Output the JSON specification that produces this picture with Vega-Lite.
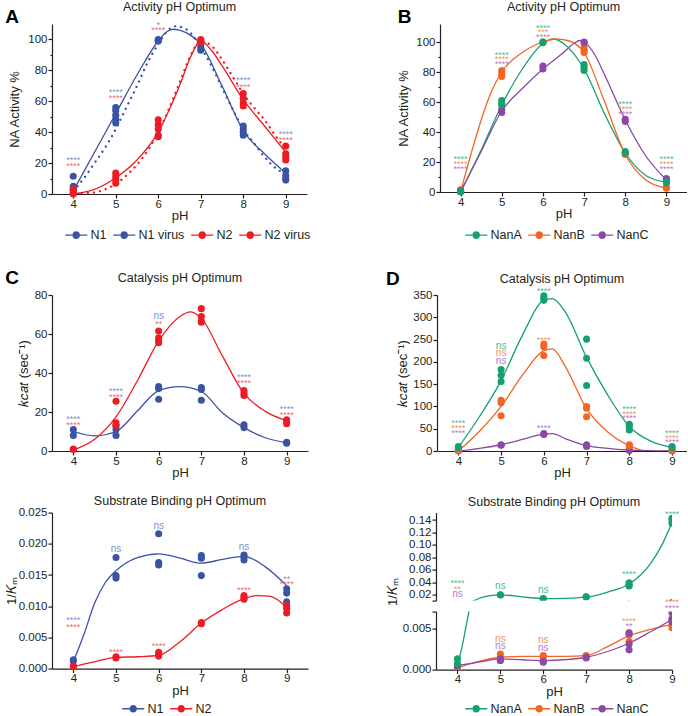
{
  "$schema": "https://vega.github.io/schema/vega-lite/v6.json",
  "padding": {"left": 5, "top": 1, "right": 0, "bottom": 0},
  "config": {
    "font": "Liberation Sans",
    "view": {"stroke": null},
    "axis": {"grid": false, "domainColor": "#231f20", "tickColor": "#231f20", "labelColor": "#231f20", "titleColor": "#231f20", "labelFontSize": 11.5, "titleFontSize": 13, "titleFontWeight": "normal", "tickSize": 4, "labelPadding": 1, "titlePadding": 5, "domainWidth": 1.2, "tickWidth": 1.2, "labelFlush": false},
    "axisX": {"labelPadding": 0, "titlePadding": 0},
    "title": {"fontSize": 12.5, "fontWeight": "normal", "color": "#231f20", "frame": "group"},
    "legend": {"labelFontSize": 12.5, "labelColor": "#231f20", "symbolSize": 144, "symbolStrokeWidth": 0, "labelOffset": 13, "columnPadding": 6, "padding": 0}
  },
  "datasets": {
    "A_pts": [
      {"pH":4,"v":11.5,"s":"N1"},{"pH":4,"v":5,"s":"N1"},{"pH":4,"v":3,"s":"N1"},{"pH":4,"v":1,"s":"N1"},
      {"pH":5,"v":56,"s":"N1"},{"pH":5,"v":54,"s":"N1"},{"pH":5,"v":51,"s":"N1"},{"pH":5,"v":48,"s":"N1"},{"pH":5,"v":46,"s":"N1"},
      {"pH":6,"v":100,"s":"N1"},{"pH":6,"v":99.5,"s":"N1"},{"pH":6,"v":99,"s":"N1"},
      {"pH":7,"v":99,"s":"N1"},{"pH":7,"v":97,"s":"N1"},{"pH":7,"v":95,"s":"N1"},{"pH":7,"v":93,"s":"N1"},
      {"pH":8,"v":44,"s":"N1"},{"pH":8,"v":42,"s":"N1"},{"pH":8,"v":40,"s":"N1"},{"pH":8,"v":38,"s":"N1"},
      {"pH":9,"v":15,"s":"N1"},{"pH":9,"v":12,"s":"N1"},{"pH":9,"v":10,"s":"N1"},{"pH":9,"v":9,"s":"N1"},
      {"pH":4,"v":3,"s":"N2"},{"pH":4,"v":1.5,"s":"N2"},{"pH":4,"v":0,"s":"N2"},
      {"pH":5,"v":13.5,"s":"N2"},{"pH":5,"v":11,"s":"N2"},{"pH":5,"v":9,"s":"N2"},{"pH":5,"v":7,"s":"N2"},
      {"pH":6,"v":48,"s":"N2"},{"pH":6,"v":45,"s":"N2"},{"pH":6,"v":42,"s":"N2"},{"pH":6,"v":38,"s":"N2"},{"pH":6,"v":37,"s":"N2"},
      {"pH":7,"v":100,"s":"N2"},{"pH":7,"v":99,"s":"N2"},{"pH":7,"v":98,"s":"N2"},
      {"pH":8,"v":65,"s":"N2"},{"pH":8,"v":62,"s":"N2"},{"pH":8,"v":59,"s":"N2"},{"pH":8,"v":57,"s":"N2"},
      {"pH":9,"v":31,"s":"N2"},{"pH":9,"v":26,"s":"N2"},{"pH":9,"v":24,"s":"N2"},{"pH":9,"v":22,"s":"N2"}
    ],
    "A_fit": [
      {"pH":4,"v":2,"s":"N1"},{"pH":4.5,"v":27,"s":"N1"},{"pH":5,"v":52,"s":"N1"},{"pH":5.5,"v":77,"s":"N1"},{"pH":6,"v":99,"s":"N1"},{"pH":6.2,"v":105,"s":"N1"},{"pH":6.35,"v":106.6,"s":"N1"},{"pH":6.5,"v":106,"s":"N1"},{"pH":6.8,"v":102,"s":"N1"},{"pH":7,"v":97,"s":"N1"},{"pH":7.5,"v":70,"s":"N1"},{"pH":8,"v":41,"s":"N1"},{"pH":8.5,"v":26,"s":"N1"},{"pH":9,"v":13.5,"s":"N1"},
      {"pH":4.1,"v":5,"s":"N1 virus"},{"pH":4.3,"v":12,"s":"N1 virus"},{"pH":4.5,"v":20,"s":"N1 virus"},{"pH":4.75,"v":30,"s":"N1 virus"},{"pH":5,"v":42,"s":"N1 virus"},{"pH":5.25,"v":56,"s":"N1 virus"},{"pH":5.5,"v":70,"s":"N1 virus"},{"pH":5.75,"v":85,"s":"N1 virus"},{"pH":6,"v":97,"s":"N1 virus"},{"pH":6.2,"v":105,"s":"N1 virus"},{"pH":6.4,"v":108.5,"s":"N1 virus"},{"pH":6.6,"v":107.5,"s":"N1 virus"},{"pH":6.8,"v":103,"s":"N1 virus"},{"pH":7,"v":95,"s":"N1 virus"},{"pH":7.25,"v":83,"s":"N1 virus"},{"pH":7.5,"v":69,"s":"N1 virus"},{"pH":7.75,"v":55,"s":"N1 virus"},{"pH":8,"v":42,"s":"N1 virus"},{"pH":8.25,"v":33,"s":"N1 virus"},{"pH":8.5,"v":24,"s":"N1 virus"},{"pH":8.75,"v":17,"s":"N1 virus"},{"pH":9,"v":13,"s":"N1 virus"},
      {"pH":4,"v":0,"s":"N2"},{"pH":4.5,"v":3,"s":"N2"},{"pH":5,"v":10.5,"s":"N2"},{"pH":5.5,"v":22,"s":"N2"},{"pH":6,"v":40,"s":"N2"},{"pH":6.25,"v":54,"s":"N2"},{"pH":6.5,"v":70,"s":"N2"},{"pH":6.75,"v":88,"s":"N2"},{"pH":7,"v":99,"s":"N2"},{"pH":7.25,"v":93,"s":"N2"},{"pH":7.5,"v":83,"s":"N2"},{"pH":8,"v":61,"s":"N2"},{"pH":8.5,"v":44,"s":"N2"},{"pH":9,"v":27,"s":"N2"},
      {"pH":4.2,"v":0.5,"s":"N2 virus"},{"pH":4.5,"v":1,"s":"N2 virus"},{"pH":4.75,"v":3,"s":"N2 virus"},{"pH":5,"v":6.5,"s":"N2 virus"},{"pH":5.25,"v":12,"s":"N2 virus"},{"pH":5.5,"v":19,"s":"N2 virus"},{"pH":5.75,"v":28,"s":"N2 virus"},{"pH":6,"v":40,"s":"N2 virus"},{"pH":6.25,"v":55,"s":"N2 virus"},{"pH":6.5,"v":72,"s":"N2 virus"},{"pH":6.75,"v":89,"s":"N2 virus"},{"pH":7,"v":99,"s":"N2 virus"},{"pH":7.25,"v":96,"s":"N2 virus"},{"pH":7.5,"v":87,"s":"N2 virus"},{"pH":7.75,"v":76,"s":"N2 virus"},{"pH":8,"v":65,"s":"N2 virus"},{"pH":8.25,"v":56,"s":"N2 virus"},{"pH":8.5,"v":48,"s":"N2 virus"},{"pH":8.75,"v":38,"s":"N2 virus"},{"pH":9,"v":29,"s":"N2 virus"}
    ],
    "A_sig": [
      {"pH":4,"v":23.3,"s":"N1","label":"****"},{"pH":4,"v":19.3,"s":"N2","label":"****"},
      {"pH":5,"v":67.5,"s":"N1","label":"****"},{"pH":5,"v":63.4,"s":"N2","label":"****"},
      {"pH":6,"v":111,"s":"N1","label":"*"},{"pH":6,"v":107.7,"s":"N2","label":"****"},
      {"pH":8,"v":75,"s":"N1","label":"****"},{"pH":8,"v":70.7,"s":"N2","label":"****"},
      {"pH":9,"v":40.3,"s":"N1","label":"****"},{"pH":9,"v":36.4,"s":"N2","label":"****"}
    ],
    "B_pts": [
      {"pH":4,"v":1.5,"s":"NanB"},{"pH":4,"v":1,"s":"NanB"},{"pH":5,"v":81,"s":"NanB"},{"pH":5,"v":79,"s":"NanB"},{"pH":5,"v":77,"s":"NanB"},{"pH":6,"v":100,"s":"NanB"},{"pH":7,"v":96,"s":"NanB"},{"pH":7,"v":94,"s":"NanB"},{"pH":7,"v":93,"s":"NanB"},{"pH":8,"v":26,"s":"NanB"},{"pH":8,"v":25,"s":"NanB"},{"pH":9,"v":3,"s":"NanB"},{"pH":9,"v":2.5,"s":"NanB"},
      {"pH":4,"v":1,"s":"NanC"},{"pH":4,"v":0.5,"s":"NanC"},{"pH":5,"v":55,"s":"NanC"},{"pH":5,"v":53,"s":"NanC"},{"pH":6,"v":84,"s":"NanC"},{"pH":6,"v":82,"s":"NanC"},{"pH":7,"v":100,"s":"NanC"},{"pH":7,"v":99.5,"s":"NanC"},{"pH":8,"v":48.5,"s":"NanC"},{"pH":8,"v":47,"s":"NanC"},{"pH":9,"v":9,"s":"NanC"},{"pH":9,"v":8,"s":"NanC"},
      {"pH":4,"v":0.5,"s":"NanA"},{"pH":4,"v":0,"s":"NanA"},{"pH":5,"v":61,"s":"NanA"},{"pH":5,"v":59,"s":"NanA"},{"pH":5,"v":58,"s":"NanA"},{"pH":6,"v":100,"s":"NanA"},{"pH":6,"v":99.5,"s":"NanA"},{"pH":7,"v":85,"s":"NanA"},{"pH":7,"v":83,"s":"NanA"},{"pH":7,"v":81,"s":"NanA"},{"pH":8,"v":27,"s":"NanA"},{"pH":8,"v":26,"s":"NanA"},{"pH":9,"v":7,"s":"NanA"},{"pH":9,"v":6,"s":"NanA"}
    ],
    "B_fit": [
      {"pH":4,"v":0,"s":"NanA"},{"pH":4.5,"v":28,"s":"NanA"},{"pH":5,"v":58,"s":"NanA"},{"pH":5.5,"v":82,"s":"NanA"},{"pH":6,"v":99,"s":"NanA"},{"pH":6.25,"v":102,"s":"NanA"},{"pH":6.5,"v":99,"s":"NanA"},{"pH":7,"v":82,"s":"NanA"},{"pH":7.5,"v":52,"s":"NanA"},{"pH":8,"v":26,"s":"NanA"},{"pH":8.5,"v":11,"s":"NanA"},{"pH":9,"v":6.5,"s":"NanA"},
      {"pH":4,"v":0,"s":"NanB"},{"pH":4.25,"v":25,"s":"NanB"},{"pH":4.5,"v":48,"s":"NanB"},{"pH":4.75,"v":67,"s":"NanB"},{"pH":5,"v":80,"s":"NanB"},{"pH":5.5,"v":93,"s":"NanB"},{"pH":6,"v":100,"s":"NanB"},{"pH":6.3,"v":102,"s":"NanB"},{"pH":6.6,"v":101,"s":"NanB"},{"pH":7,"v":93,"s":"NanB"},{"pH":7.5,"v":60,"s":"NanB"},{"pH":8,"v":25,"s":"NanB"},{"pH":8.5,"v":8,"s":"NanB"},{"pH":9,"v":2.5,"s":"NanB"},
      {"pH":4,"v":0,"s":"NanC"},{"pH":4.5,"v":27,"s":"NanC"},{"pH":5,"v":54,"s":"NanC"},{"pH":5.5,"v":69,"s":"NanC"},{"pH":6,"v":82,"s":"NanC"},{"pH":6.5,"v":93,"s":"NanC"},{"pH":6.75,"v":99,"s":"NanC"},{"pH":6.9,"v":101,"s":"NanC"},{"pH":7,"v":100,"s":"NanC"},{"pH":7.25,"v":92,"s":"NanC"},{"pH":7.5,"v":78,"s":"NanC"},{"pH":8,"v":48,"s":"NanC"},{"pH":8.5,"v":24,"s":"NanC"},{"pH":9,"v":8,"s":"NanC"}
    ],
    "B_sig": [
      {"pH":4,"v":23.3,"s":"NanA","label":"****"},{"pH":4,"v":20,"s":"NanB","label":"****"},{"pH":4,"v":16.7,"s":"NanC","label":"****"},
      {"pH":5,"v":93,"s":"NanA","label":"****"},{"pH":5,"v":90,"s":"NanB","label":"****"},{"pH":5,"v":86.9,"s":"NanC","label":"****"},
      {"pH":6,"v":111,"s":"NanA","label":"****"},{"pH":6,"v":108,"s":"NanB","label":"***"},{"pH":6,"v":104.7,"s":"NanC","label":"****"},
      {"pH":8,"v":60,"s":"NanA","label":"****"},{"pH":8,"v":57,"s":"NanB","label":"****"},{"pH":8,"v":53.8,"s":"NanC","label":"****"},
      {"pH":9,"v":23.3,"s":"NanA","label":"****"},{"pH":9,"v":20,"s":"NanB","label":"****"},{"pH":9,"v":16.9,"s":"NanC","label":"****"}
    ],
    "C_pts": [
      {"pH":4,"v":11,"s":"N1"},{"pH":4,"v":8,"s":"N1"},{"pH":5,"v":13,"s":"N1"},{"pH":5,"v":11,"s":"N1"},{"pH":5,"v":8,"s":"N1"},{"pH":6,"v":33,"s":"N1"},{"pH":6,"v":32,"s":"N1"},{"pH":6,"v":26.5,"s":"N1"},{"pH":7,"v":32.5,"s":"N1"},{"pH":7,"v":31.5,"s":"N1"},{"pH":7,"v":26,"s":"N1"},{"pH":8,"v":13.5,"s":"N1"},{"pH":8,"v":12,"s":"N1"},{"pH":9,"v":4.5,"s":"N1"},{"pH":9,"v":4,"s":"N1"},
      {"pH":4,"v":1,"s":"N2"},{"pH":4,"v":0.8,"s":"N2"},{"pH":5,"v":25.5,"s":"N2"},{"pH":5,"v":14.5,"s":"N2"},{"pH":5,"v":13,"s":"N2"},{"pH":6,"v":61.5,"s":"N2"},{"pH":6,"v":58,"s":"N2"},{"pH":6,"v":56.5,"s":"N2"},{"pH":6,"v":55.5,"s":"N2"},{"pH":7,"v":73,"s":"N2"},{"pH":7,"v":69,"s":"N2"},{"pH":7,"v":66.5,"s":"N2"},{"pH":7,"v":66,"s":"N2"},{"pH":8,"v":31,"s":"N2"},{"pH":8,"v":29.5,"s":"N2"},{"pH":8,"v":28.5,"s":"N2"},{"pH":9,"v":16,"s":"N2"},{"pH":9,"v":15,"s":"N2"},{"pH":9,"v":14,"s":"N2"}
    ],
    "C_fit": [
      {"pH":4,"v":10,"s":"N1"},{"pH":4.5,"v":7.8,"s":"N1"},{"pH":5,"v":10,"s":"N1"},{"pH":5.5,"v":20.5,"s":"N1"},{"pH":6,"v":31,"s":"N1"},{"pH":6.5,"v":33,"s":"N1"},{"pH":7,"v":30.5,"s":"N1"},{"pH":7.5,"v":19.5,"s":"N1"},{"pH":8,"v":12,"s":"N1"},{"pH":8.5,"v":6.8,"s":"N1"},{"pH":9,"v":4.2,"s":"N1"},
      {"pH":4,"v":0.5,"s":"N2"},{"pH":4.5,"v":6,"s":"N2"},{"pH":5,"v":17.5,"s":"N2"},{"pH":5.5,"v":36,"s":"N2"},{"pH":6,"v":56.5,"s":"N2"},{"pH":6.5,"v":69,"s":"N2"},{"pH":6.75,"v":71.3,"s":"N2"},{"pH":7,"v":68,"s":"N2"},{"pH":7.5,"v":48.5,"s":"N2"},{"pH":8,"v":29.5,"s":"N2"},{"pH":8.5,"v":20.3,"s":"N2"},{"pH":9,"v":15.5,"s":"N2"}
    ],
    "C_sig": [
      {"pH":4,"v":17.7,"s":"N1","label":"****"},{"pH":4,"v":14.3,"s":"N2","label":"****"},
      {"pH":5,"v":31.7,"s":"N1","label":"****"},{"pH":5,"v":28.7,"s":"N2","label":"****"},
      {"pH":6,"v":69,"s":"N1","label":"ns"},{"pH":6,"v":66.2,"s":"N2","label":"**"},
      {"pH":8,"v":39,"s":"N1","label":"****"},{"pH":8,"v":36,"s":"N2","label":"****"},
      {"pH":9,"v":22.9,"s":"N1","label":"****"},{"pH":9,"v":19.8,"s":"N2","label":"****"}
    ],
    "D_pts": [
      {"pH":4,"v":0.3,"s":"NanC"},{"pH":5,"v":14,"s":"NanC"},{"pH":5,"v":13,"s":"NanC"},{"pH":6,"v":39,"s":"NanC"},{"pH":6,"v":37,"s":"NanC"},{"pH":7,"v":14,"s":"NanC"},{"pH":7,"v":10,"s":"NanC"},{"pH":8,"v":2,"s":"NanC"},{"pH":8,"v":1,"s":"NanC"},{"pH":9,"v":0.3,"s":"NanC"},
      {"pH":4,"v":1,"s":"NanB"},{"pH":4,"v":0.5,"s":"NanB"},{"pH":5,"v":114,"s":"NanB"},{"pH":5,"v":108,"s":"NanB"},{"pH":5,"v":79,"s":"NanB"},{"pH":6,"v":240,"s":"NanB"},{"pH":6,"v":234,"s":"NanB"},{"pH":6,"v":214,"s":"NanB"},{"pH":7,"v":100,"s":"NanB"},{"pH":7,"v":96,"s":"NanB"},{"pH":7,"v":77,"s":"NanB"},{"pH":8,"v":14,"s":"NanB"},{"pH":8,"v":11,"s":"NanB"},{"pH":9,"v":1,"s":"NanB"},{"pH":9,"v":0.5,"s":"NanB"},
      {"pH":4,"v":10,"s":"NanA"},{"pH":4,"v":8,"s":"NanA"},{"pH":5,"v":183,"s":"NanA"},{"pH":5,"v":170,"s":"NanA"},{"pH":5,"v":156,"s":"NanA"},{"pH":6,"v":348,"s":"NanA"},{"pH":6,"v":343,"s":"NanA"},{"pH":6,"v":338,"s":"NanA"},{"pH":7,"v":251,"s":"NanA"},{"pH":7,"v":208,"s":"NanA"},{"pH":7,"v":147,"s":"NanA"},{"pH":8,"v":60,"s":"NanA"},{"pH":8,"v":55,"s":"NanA"},{"pH":8,"v":47,"s":"NanA"},{"pH":9,"v":10,"s":"NanA"},{"pH":9,"v":8,"s":"NanA"}
    ],
    "D_fit": [
      {"pH":4,"v":8,"s":"NanA"},{"pH":4.5,"v":78,"s":"NanA"},{"pH":5,"v":158,"s":"NanA"},{"pH":5.5,"v":260,"s":"NanA"},{"pH":6,"v":338,"s":"NanA"},{"pH":6.2,"v":342,"s":"NanA"},{"pH":6.5,"v":312,"s":"NanA"},{"pH":7,"v":210,"s":"NanA"},{"pH":7.5,"v":125,"s":"NanA"},{"pH":8,"v":55,"s":"NanA"},{"pH":8.5,"v":22,"s":"NanA"},{"pH":9,"v":8,"s":"NanA"},
      {"pH":4,"v":0,"s":"NanB"},{"pH":4.5,"v":45,"s":"NanB"},{"pH":5,"v":100,"s":"NanB"},{"pH":5.5,"v":170,"s":"NanB"},{"pH":6,"v":225,"s":"NanB"},{"pH":6.2,"v":229,"s":"NanB"},{"pH":6.5,"v":190,"s":"NanB"},{"pH":7,"v":95,"s":"NanB"},{"pH":7.5,"v":42,"s":"NanB"},{"pH":8,"v":12,"s":"NanB"},{"pH":8.5,"v":-2,"s":"NanB"},{"pH":8.8,"v":-1,"s":"NanB"},{"pH":9,"v":0,"s":"NanB"},
      {"pH":4,"v":0,"s":"NanC"},{"pH":4.5,"v":6,"s":"NanC"},{"pH":5,"v":14,"s":"NanC"},{"pH":5.5,"v":26,"s":"NanC"},{"pH":6,"v":38,"s":"NanC"},{"pH":6.2,"v":39,"s":"NanC"},{"pH":6.5,"v":28,"s":"NanC"},{"pH":7,"v":12,"s":"NanC"},{"pH":7.5,"v":6,"s":"NanC"},{"pH":8,"v":2,"s":"NanC"},{"pH":9,"v":0,"s":"NanC"}
    ],
    "D_sig": [
      {"pH":4,"v":67,"s":"NanA","label":"****"},{"pH":4,"v":57,"s":"NanB","label":"****"},{"pH":4,"v":45.6,"s":"NanC","label":"****"},
      {"pH":5,"v":236,"s":"NanA","label":"ns"},{"pH":5,"v":219,"s":"NanB","label":"ns"},{"pH":5,"v":202,"s":"NanC","label":"ns"},
      {"pH":6,"v":365,"s":"NanA","label":"****"},{"pH":6,"v":255,"s":"NanB","label":"****"},{"pH":6,"v":56,"s":"NanC","label":"****"},
      {"pH":8,"v":99.5,"s":"NanA","label":"****"},{"pH":8,"v":88,"s":"NanB","label":"****"},{"pH":8,"v":78,"s":"NanC","label":"****"},
      {"pH":9,"v":45,"s":"NanA","label":"****"},{"pH":9,"v":35,"s":"NanB","label":"****"},{"pH":9,"v":25,"s":"NanC","label":"****"}
    ],
    "Cb_pts": [
      {"pH":4,"v":0.0014,"s":"N1"},{"pH":4,"v":0.0012,"s":"N1"},{"pH":5,"v":0.0178,"s":"N1"},{"pH":5,"v":0.0149,"s":"N1"},{"pH":5,"v":0.0145,"s":"N1"},{"pH":6,"v":0.0216,"s":"N1"},{"pH":6,"v":0.017,"s":"N1"},{"pH":6,"v":0.0166,"s":"N1"},{"pH":7,"v":0.0181,"s":"N1"},{"pH":7,"v":0.0177,"s":"N1"},{"pH":7,"v":0.0149,"s":"N1"},{"pH":8,"v":0.0182,"s":"N1"},{"pH":8,"v":0.0179,"s":"N1"},{"pH":8,"v":0.0174,"s":"N1"},{"pH":9,"v":0.0128,"s":"N1"},{"pH":9,"v":0.0121,"s":"N1"},{"pH":9,"v":0.0107,"s":"N1"},
      {"pH":4,"v":0.0004,"s":"N2"},{"pH":4,"v":0.0003,"s":"N2"},{"pH":5,"v":0.0019,"s":"N2"},{"pH":5,"v":0.0017,"s":"N2"},{"pH":6,"v":0.0026,"s":"N2"},{"pH":6,"v":0.0023,"s":"N2"},{"pH":6,"v":0.002,"s":"N2"},{"pH":7,"v":0.0074,"s":"N2"},{"pH":7,"v":0.0072,"s":"N2"},{"pH":8,"v":0.0117,"s":"N2"},{"pH":8,"v":0.0114,"s":"N2"},{"pH":8,"v":0.0111,"s":"N2"},{"pH":9,"v":0.0101,"s":"N2"},{"pH":9,"v":0.0096,"s":"N2"},{"pH":9,"v":0.0089,"s":"N2"}
    ],
    "Cb_fit": [
      {"pH":4,"v":0.0011,"s":"N1"},{"pH":4.25,"v":0.0055,"s":"N1"},{"pH":4.5,"v":0.0105,"s":"N1"},{"pH":4.75,"v":0.0138,"s":"N1"},{"pH":5,"v":0.0157,"s":"N1"},{"pH":5.5,"v":0.0178,"s":"N1"},{"pH":6,"v":0.0184,"s":"N1"},{"pH":6.5,"v":0.0177,"s":"N1"},{"pH":7,"v":0.0169,"s":"N1"},{"pH":7.5,"v":0.0175,"s":"N1"},{"pH":8,"v":0.018,"s":"N1"},{"pH":8.5,"v":0.0163,"s":"N1"},{"pH":9,"v":0.0133,"s":"N1"},
      {"pH":4,"v":0.0003,"s":"N2"},{"pH":4.5,"v":0.0011,"s":"N2"},{"pH":5,"v":0.0018,"s":"N2"},{"pH":5.5,"v":0.0019,"s":"N2"},{"pH":6,"v":0.0021,"s":"N2"},{"pH":6.5,"v":0.0043,"s":"N2"},{"pH":7,"v":0.0073,"s":"N2"},{"pH":7.5,"v":0.0095,"s":"N2"},{"pH":8,"v":0.0112,"s":"N2"},{"pH":8.3,"v":0.0117,"s":"N2"},{"pH":8.6,"v":0.0116,"s":"N2"},{"pH":9,"v":0.0098,"s":"N2"}
    ],
    "Cb_sig": [
      {"pH":4,"v":0.0081,"s":"N1","label":"****"},{"pH":4,"v":0.007,"s":"N2","label":"****"},
      {"pH":5,"v":0.0191,"s":"N1","label":"ns"},{"pH":5,"v":0.003,"s":"N2","label":"****"},
      {"pH":6,"v":0.0228,"s":"N1","label":"ns"},{"pH":6,"v":0.0039,"s":"N2","label":"****"},
      {"pH":8,"v":0.0195,"s":"N1","label":"ns"},{"pH":8,"v":0.013,"s":"N2","label":"****"},
      {"pH":9,"v":0.0147,"s":"N1","label":"**"},{"pH":9,"v":0.0139,"s":"N2","label":"****"}
    ],
    "Db_pts": [
      {"pH":4,"v":0.0003,"s":"NanB"},{"pH":4,"v":0.0002,"s":"NanB"},{"pH":5,"v":0.0019,"s":"NanB"},{"pH":5,"v":0.0015,"s":"NanB"},{"pH":5,"v":0.0011,"s":"NanB"},{"pH":6,"v":0.0017,"s":"NanB"},{"pH":6,"v":0.0015,"s":"NanB"},{"pH":7,"v":0.0017,"s":"NanB"},{"pH":7,"v":0.0016,"s":"NanB"},{"pH":8,"v":0.0045,"s":"NanB"},{"pH":8,"v":0.0042,"s":"NanB"},{"pH":8,"v":0.0034,"s":"NanB"},{"pH":9,"v":0.0062,"s":"NanB"},{"pH":9,"v":0.0054,"s":"NanB"},{"pH":9,"v":0.0051,"s":"NanB"},
      {"pH":4,"v":0.0006,"s":"NanC"},{"pH":4,"v":0.0004,"s":"NanC"},{"pH":5,"v":0.0013,"s":"NanC"},{"pH":5,"v":0.0011,"s":"NanC"},{"pH":6,"v":0.001,"s":"NanC"},{"pH":6,"v":0.0009,"s":"NanC"},{"pH":7,"v":0.0015,"s":"NanC"},{"pH":7,"v":0.0014,"s":"NanC"},{"pH":8,"v":0.0044,"s":"NanC"},{"pH":8,"v":0.0031,"s":"NanC"},{"pH":8,"v":0.0024,"s":"NanC"},{"pH":9,"v":0.0069,"s":"NanC"},{"pH":9,"v":0.0061,"s":"NanC"},{"pH":9,"v":0.0058,"s":"NanC"},
      {"pH":4,"v":0.0013,"s":"NanA"},{"pH":4,"v":0.0007,"s":"NanA"},{"pH":5,"v":0.0198,"s":"NanA"},{"pH":5,"v":0.0194,"s":"NanA"},{"pH":6,"v":0.0137,"s":"NanA"},{"pH":6,"v":0.0133,"s":"NanA"},{"pH":7,"v":0.0166,"s":"NanA"},{"pH":7,"v":0.016,"s":"NanA"},{"pH":8,"v":0.039,"s":"NanA"},{"pH":8,"v":0.0355,"s":"NanA"},{"pH":8,"v":0.034,"s":"NanA"},{"pH":9,"v":0.143,"s":"NanA"},{"pH":9,"v":0.14,"s":"NanA"},{"pH":9,"v":0.135,"s":"NanA"}
    ],
    "Db_fit": [
      {"pH":4,"v":0.0004,"s":"NanA"},{"pH":4.1,"v":0.0026,"s":"NanA"},{"pH":4.25,"v":0.0066,"s":"NanA"},{"pH":4.4,"v":0.0105,"s":"NanA"},{"pH":4.55,"v":0.015,"s":"NanA"},{"pH":4.75,"v":0.0182,"s":"NanA"},{"pH":5,"v":0.0196,"s":"NanA"},{"pH":5.5,"v":0.0164,"s":"NanA"},{"pH":6,"v":0.0136,"s":"NanA"},{"pH":6.5,"v":0.014,"s":"NanA"},{"pH":7,"v":0.0158,"s":"NanA"},{"pH":7.5,"v":0.024,"s":"NanA"},{"pH":8,"v":0.037,"s":"NanA"},{"pH":8.5,"v":0.07,"s":"NanA"},{"pH":8.75,"v":0.098,"s":"NanA"},{"pH":9,"v":0.136,"s":"NanA"},
      {"pH":4,"v":0.0002,"s":"NanB"},{"pH":4.5,"v":0.001,"s":"NanB"},{"pH":5,"v":0.0015,"s":"NanB"},{"pH":5.5,"v":0.0016,"s":"NanB"},{"pH":6,"v":0.0016,"s":"NanB"},{"pH":6.5,"v":0.0016,"s":"NanB"},{"pH":7,"v":0.0017,"s":"NanB"},{"pH":7.5,"v":0.0028,"s":"NanB"},{"pH":8,"v":0.0041,"s":"NanB"},{"pH":8.5,"v":0.0049,"s":"NanB"},{"pH":9,"v":0.0055,"s":"NanB"},
      {"pH":4,"v":0.0005,"s":"NanC"},{"pH":4.5,"v":0.0009,"s":"NanC"},{"pH":5,"v":0.0013,"s":"NanC"},{"pH":5.5,"v":0.0012,"s":"NanC"},{"pH":6,"v":0.0011,"s":"NanC"},{"pH":6.5,"v":0.0012,"s":"NanC"},{"pH":7,"v":0.0015,"s":"NanC"},{"pH":7.5,"v":0.0022,"s":"NanC"},{"pH":8,"v":0.0032,"s":"NanC"},{"pH":8.5,"v":0.0046,"s":"NanC"},{"pH":9,"v":0.0061,"s":"NanC"}
    ],
    "Dbu_sig": [
      {"pH":4,"v":0.0415,"s":"NanA","label":"****"},{"pH":4,"v":0.0324,"s":"NanB","label":"**"},{"pH":4,"v":0.0211,"s":"NanC","label":"ns"},
      {"pH":5,"v":0.0345,"s":"NanA","label":"ns"},{"pH":6,"v":0.028,"s":"NanA","label":"ns"},
      {"pH":8,"v":0.0566,"s":"NanA","label":"****"},{"pH":9,"v":0.1533,"s":"NanA","label":"****"}
    ],
    "Dbl_sig": [
      {"pH":5,"v":0.00378,"s":"NanB","label":"ns"},{"pH":5,"v":0.00285,"s":"NanC","label":"ns"},
      {"pH":6,"v":0.00354,"s":"NanB","label":"ns"},{"pH":6,"v":0.00264,"s":"NanC","label":"ns"},
      {"pH":8,"v":0.00618,"s":"NanB","label":"****"},{"pH":8,"v":0.00561,"s":"NanC","label":"**"},
      {"pH":9,"v":0.00846,"s":"NanB","label":"****"},{"pH":9,"v":0.0078,"s":"NanC","label":"****"}
    ]
  },
  "spacing": 26,
  "resolve": {"scale": {"color": "independent", "fill": "independent", "stroke": "independent"}},
  "vconcat": [
    {
      "hconcat": [
        {
          "title": {"text": "A", "anchor": "start", "frame": "bounds", "fontSize": 19, "fontWeight": "bold", "color": "#000000", "offset": -25.9, "dx": -3.6},
          "resolve": {"scale": {"color": "independent", "fill": "independent", "stroke": "independent"}},
          "vconcat": [
            {
              "width": 255, "height": 170,
              "title": {"text": "Activity pH Optimum", "offset": 7},
              "encoding": {
                "x": {"field": "pH", "type": "quantitative", "scale": {"domain": [3.5, 9.5], "nice": false, "zero": false}, "axis": {"values": [4,5,6,7,8,9], "title": "pH"}},
                "y": {"field": "v", "type": "quantitative", "scale": {"domain": [0, 110], "nice": false}, "axis": {"title": "NA Activity %", "titlePadding": 6, "values": [0,10,20,30,40,50,60,70,80,90,100], "labelExpr": "datum.value % 20 == 0 ? datum.label : ''", "tickSize": {"condition": {"test": "datum.value % 20 != 0", "value": 2}, "value": 4}}}
              },
              "layer": [
                {"data": {"name": "A_fit"}, "transform": [{"filter": "indexof(datum.s, 'virus') < 0"}], "mark": {"type": "line", "interpolate": "monotone", "strokeWidth": 1.3}, "encoding": {"stroke": {"field": "s", "type": "nominal", "scale": {"domain": ["N2 virus", "N2", "N1 virus", "N1"], "range": ["#ed1c24", "#ed1c24", "#3a53a4", "#3a53a4"]}, "legend": null}}},
                {"data": {"name": "A_fit"}, "transform": [{"filter": "indexof(datum.s, 'virus') >= 0"}], "mark": {"type": "line", "interpolate": "monotone", "strokeWidth": 2.3, "strokeDash": [0.1, 6], "strokeCap": "round"}, "encoding": {"stroke": {"field": "s", "type": "nominal", "scale": {"domain": ["N2 virus", "N2", "N1 virus", "N1"], "range": ["#ed1c24", "#ed1c24", "#3a53a4", "#3a53a4"]}, "legend": null}}},
                {"data": {"name": "A_pts"}, "mark": {"type": "circle", "size": 50, "opacity": 1}, "encoding": {"color": {"field": "s", "type": "nominal", "scale": {"domain": ["N1", "N1 virus", "N2", "N2 virus"], "range": ["#3a53a4", "#3a53a4", "#ed1c24", "#ed1c24"]}, "legend": {"orient": "none", "legendX": 13, "legendY": 204.75, "direction": "horizontal", "title": null, "symbolType": "M-1,-0.117H0.2V0.117H-1Z M1.46,-0.117H2.67V0.117H1.46Z M0.2,0A0.63,0.63,0,1,1,1.46,0A0.63,0.63,0,1,1,0.2,0Z", "encode": {"symbols": {"shape": {"condition": {"test": "indexof(datum.value, 'virus') >= 0", "value": "M-1,-0.117h0.233v0.233h-0.233Z M-0.55,-0.117h0.233v0.233h-0.233Z M-0.1,-0.117h0.233v0.233h-0.233Z M1.53,-0.117h0.233v0.233h-0.233Z M1.98,-0.117h0.233v0.233h-0.233Z M2.43,-0.117h0.233v0.233h-0.233Z M0.2,0A0.63,0.63,0,1,1,1.46,0A0.63,0.63,0,1,1,0.2,0Z"}, "value": "M-1,-0.117H0.2V0.117H-1Z M1.46,-0.117H2.67V0.117H1.46Z M0.2,0A0.63,0.63,0,1,1,1.46,0A0.63,0.63,0,1,1,0.2,0Z"}}}}}}},
                {"data": {"name": "A_sig"}, "mark": {"type": "text", "fontSize": 9, "baseline": "alphabetic", "dy": 5.2}, "encoding": {"text": {"field": "label"}, "fill": {"field": "s", "type": "nominal", "scale": {"domain": ["N2", "N1"], "range": ["#f26a6f", "#7c92d4"]}, "legend": null}}}
              ]
            }
          ]
        },
        {
          "title": {"text": "B", "anchor": "start", "frame": "bounds", "fontSize": 19, "fontWeight": "bold", "color": "#000000", "offset": -25.9, "dx": 0},
          "resolve": {"scale": {"color": "independent", "fill": "independent", "stroke": "independent"}},
          "vconcat": [
            {
              "width": 247, "height": 168,
              "title": {"text": "Activity pH Optimum", "offset": 10},
              "encoding": {
                "x": {"field": "pH", "type": "quantitative", "scale": {"domain": [3.5, 9.5], "nice": false, "zero": false}, "axis": {"values": [4,5,6,7,8,9], "title": "pH"}},
                "y": {"field": "v", "type": "quantitative", "scale": {"domain": [0, 112], "nice": false}, "axis": {"title": "NA Activity %", "titlePadding": 5, "values": [0,10,20,30,40,50,60,70,80,90,100], "labelExpr": "datum.value % 20 == 0 ? datum.label : ''", "tickSize": {"condition": {"test": "datum.value % 20 != 0", "value": 2}, "value": 4}}}
              },
              "layer": [
                {"data": {"name": "B_fit"}, "mark": {"type": "line", "interpolate": "monotone", "strokeWidth": 1.3}, "encoding": {"stroke": {"field": "s", "type": "nominal", "scale": {"domain": ["NanC", "NanB", "NanA"], "range": ["#8b48a6", "#f26522", "#16a070"]}, "legend": null}}},
                {"data": {"name": "B_pts"}, "mark": {"type": "circle", "size": 50, "opacity": 1}, "encoding": {"color": {"field": "s", "type": "nominal", "scale": {"domain": ["NanA", "NanB", "NanC"], "range": ["#16a070", "#f26522", "#8b48a6"]}, "legend": {"orient": "none", "legendX": 25, "legendY": 204.75, "direction": "horizontal", "title": null, "symbolType": "M-1,-0.117H0.2V0.117H-1Z M1.46,-0.117H2.67V0.117H1.46Z M0.2,0A0.63,0.63,0,1,1,1.46,0A0.63,0.63,0,1,1,0.2,0Z"}}}},
                {"data": {"name": "B_sig"}, "mark": {"type": "text", "fontSize": 9, "baseline": "alphabetic", "dy": 5.2}, "encoding": {"text": {"field": "label"}, "fill": {"field": "s", "type": "nominal", "scale": {"domain": ["NanC", "NanB", "NanA"], "range": ["#b07cc6", "#f6925c", "#4cbc92"]}, "legend": null}}}
              ]
            }
          ]
        }
      ],
      "spacing": 86,
      "resolve": {"scale": {"color": "independent", "fill": "independent", "stroke": "independent"}}
    },
    {
      "vconcat": [
        {
          "hconcat": [
            {
              "title": {"text": "C", "anchor": "start", "frame": "bounds", "fontSize": 19, "fontWeight": "bold", "color": "#000000", "offset": -15.9, "dx": -12},
              "resolve": {"scale": {"color": "independent", "fill": "independent", "stroke": "independent"}},
              "vconcat": [
                {
                  "width": 256, "height": 156,
                  "title": {"text": "Catalysis pH Optimum", "offset": 4.65},
                  "encoding": {
                    "x": {"field": "pH", "type": "quantitative", "scale": {"domain": [3.5, 9.5], "nice": false, "zero": false}, "axis": {"values": [4,5,6,7,8,9], "title": "pH"}},
                    "y": {"field": "v", "type": "quantitative", "scale": {"domain": [0, 80], "nice": false}, "axis": {"title": "𝑘𝑐𝑎𝑡 (sec⁻¹)", "titlePadding": 4, "values": [0,20,40,60,80]}}
                  },
                  "layer": [
                    {"data": {"name": "C_fit"}, "mark": {"type": "line", "interpolate": "monotone", "strokeWidth": 1.3}, "encoding": {"stroke": {"field": "s", "type": "nominal", "scale": {"domain": ["N1", "N2"], "range": ["#3a53a4", "#ed1c24"]}, "legend": null}}},
                    {"data": {"name": "C_pts"}, "mark": {"type": "circle", "size": 50, "opacity": 1}, "encoding": {"color": {"field": "s", "type": "nominal", "scale": {"domain": ["N1", "N2"], "range": ["#3a53a4", "#ed1c24"]}, "legend": null}}},
                    {"data": {"name": "C_sig"}, "transform": [{"filter": "datum.label != 'ns'"}], "mark": {"type": "text", "fontSize": 9, "baseline": "alphabetic", "dy": 5.2}, "encoding": {"text": {"field": "label"}, "fill": {"field": "s", "type": "nominal", "scale": {"domain": ["N1", "N2"], "range": ["#7c92d4", "#f26a6f"]}, "legend": null}}},
                    {"data": {"name": "C_sig"}, "transform": [{"filter": "datum.label == 'ns'"}], "mark": {"type": "text", "fontSize": 10, "baseline": "middle"}, "encoding": {"text": {"field": "label"}, "fill": {"field": "s", "type": "nominal", "scale": {"domain": ["N1", "N2"], "range": ["#7c92d4", "#f26a6f"]}, "legend": null}}}
                  ]
                }
              ]
            },
            {
              "title": {"text": "D", "anchor": "start", "frame": "bounds", "fontSize": 19, "fontWeight": "bold", "color": "#000000", "offset": -16.2, "dx": -10.8},
              "resolve": {"scale": {"color": "independent", "fill": "independent", "stroke": "independent"}},
              "vconcat": [
                {
                  "width": 250, "height": 156,
                  "title": {"text": "Catalysis pH Optimum", "offset": 0.8},
                  "encoding": {
                    "x": {"field": "pH", "type": "quantitative", "scale": {"domain": [3.5, 9.35], "nice": false, "zero": false}, "axis": {"values": [4,5,6,7,8,9], "title": "pH"}},
                    "y": {"field": "v", "type": "quantitative", "scale": {"domain": [0, 350], "nice": false}, "axis": {"title": "𝑘𝑐𝑎𝑡 (sec⁻¹)", "titlePadding": 3, "values": [0,50,100,150,200,250,300,350]}}
                  },
                  "layer": [
                    {"data": {"name": "D_fit"}, "mark": {"type": "line", "interpolate": "monotone", "strokeWidth": 1.3, "clip": true}, "encoding": {"stroke": {"field": "s", "type": "nominal", "scale": {"domain": ["NanA", "NanB", "NanC"], "range": ["#16a070", "#f26522", "#8b48a6"]}, "legend": null}}},
                    {"data": {"name": "D_pts"}, "mark": {"type": "circle", "size": 50, "opacity": 1}, "encoding": {"color": {"field": "s", "type": "nominal", "scale": {"domain": ["NanA", "NanB", "NanC"], "range": ["#16a070", "#f26522", "#8b48a6"]}, "legend": null}}},
                    {"data": {"name": "D_sig"}, "transform": [{"filter": "datum.label != 'ns'"}], "mark": {"type": "text", "fontSize": 9, "baseline": "alphabetic", "dy": 5.2}, "encoding": {"text": {"field": "label"}, "fill": {"field": "s", "type": "nominal", "scale": {"domain": ["NanA", "NanB", "NanC"], "range": ["#4cbc92", "#f6925c", "#b07cc6"]}, "legend": null}}},
                    {"data": {"name": "D_sig"}, "transform": [{"filter": "datum.label == 'ns'"}], "mark": {"type": "text", "fontSize": 10, "baseline": "middle"}, "encoding": {"text": {"field": "label"}, "fill": {"field": "s", "type": "nominal", "scale": {"domain": ["NanA", "NanB", "NanC"], "range": ["#4cbc92", "#f6925c", "#b07cc6"]}, "legend": null}}}
                  ]
                }
              ]
            }
          ],
          "spacing": 78,
          "resolve": {"scale": {"color": "independent", "fill": "independent", "stroke": "independent"}}
        },
        {
          "hconcat": [
            {
              "width": 256, "height": 156,
              "title": {"text": "Substrate Binding pH Optimum", "offset": -1.35},
              "encoding": {
                "x": {"field": "pH", "type": "quantitative", "scale": {"domain": [3.5, 9.5], "nice": false, "zero": false}, "axis": {"values": [4,5,6,7,8,9], "title": "pH"}},
                "y": {"field": "v", "type": "quantitative", "scale": {"domain": [0, 0.025], "nice": false}, "axis": {"title": "1/𝐾ₘ", "titlePadding": 0, "values": [0,0.005,0.01,0.015,0.02,0.025], "format": ".3f"}}
              },
              "layer": [
                {"data": {"name": "Cb_fit"}, "mark": {"type": "line", "interpolate": "monotone", "strokeWidth": 1.3}, "encoding": {"stroke": {"field": "s", "type": "nominal", "scale": {"domain": ["N2", "N1"], "range": ["#ed1c24", "#3a53a4"]}, "legend": null}}},
                {"data": {"name": "Cb_pts"}, "mark": {"type": "circle", "size": 50, "opacity": 1}, "encoding": {"color": {"field": "s", "type": "nominal", "scale": {"domain": ["N1", "N2"], "range": ["#3a53a4", "#ed1c24"]}, "legend": {"orient": "none", "legendX": 70, "legendY": 189.75, "direction": "horizontal", "title": null, "symbolType": "M-1,-0.117H0.2V0.117H-1Z M1.46,-0.117H2.67V0.117H1.46Z M0.2,0A0.63,0.63,0,1,1,1.46,0A0.63,0.63,0,1,1,0.2,0Z"}}}},
                {"data": {"name": "Cb_sig"}, "transform": [{"filter": "datum.label != 'ns'"}], "mark": {"type": "text", "fontSize": 9, "baseline": "alphabetic", "dy": 5.2}, "encoding": {"text": {"field": "label"}, "fill": {"field": "s", "type": "nominal", "scale": {"domain": ["N2", "N1"], "range": ["#f26a6f", "#7c92d4"]}, "legend": null}}},
                {"data": {"name": "Cb_sig"}, "transform": [{"filter": "datum.label == 'ns'"}], "mark": {"type": "text", "fontSize": 10, "baseline": "middle"}, "encoding": {"text": {"field": "label"}, "fill": {"field": "s", "type": "nominal", "scale": {"domain": ["N2", "N1"], "range": ["#f26a6f", "#7c92d4"]}, "legend": null}}}
              ]
            },
            {
              "vconcat": [
                {
                  "width": 236, "height": 88,
                  "title": {"text": "Substrate Binding pH Optimum", "offset": 1.5},
                  "encoding": {
                    "x": {"field": "pH", "type": "quantitative", "scale": {"domain": [3.5, 9], "nice": false, "zero": false}, "axis": null},
                    "y": {"field": "v", "type": "quantitative", "scale": {"domain": [0.0103, 0.152], "nice": false, "zero": false}, "axis": {"title": "1/𝐾ₘ", "titleY": 79, "titlePadding": 9, "values": [0.0103,0.02,0.04,0.06,0.08,0.1,0.12,0.14], "labelExpr": "datum.value < 0.015 ? '' : format(datum.value, '.2f')"}}
                  },
                  "layer": [
                    {"data": {"name": "Db_fit"}, "mark": {"type": "line", "interpolate": "monotone", "strokeWidth": 1.3, "clip": true}, "encoding": {"stroke": {"field": "s", "type": "nominal", "scale": {"domain": ["NanA", "NanB", "NanC"], "range": ["#16a070", "#f26522", "#8b48a6"]}, "legend": null}}},
                    {"data": {"name": "Db_pts"}, "mark": {"type": "circle", "size": 50, "opacity": 1, "clip": true}, "encoding": {"color": {"field": "s", "type": "nominal", "scale": {"domain": ["NanA", "NanB", "NanC"], "range": ["#16a070", "#f26522", "#8b48a6"]}, "legend": null}}},
                    {"data": {"name": "Dbu_sig"}, "transform": [{"filter": "datum.label != 'ns'"}], "mark": {"type": "text", "fontSize": 9, "baseline": "alphabetic", "dy": 5.2}, "encoding": {"text": {"field": "label"}, "fill": {"field": "s", "type": "nominal", "scale": {"domain": ["NanA", "NanB", "NanC"], "range": ["#4cbc92", "#f6925c", "#b07cc6"]}, "legend": null}}},
                    {"data": {"name": "Dbu_sig"}, "transform": [{"filter": "datum.label == 'ns'"}], "mark": {"type": "text", "fontSize": 10, "baseline": "middle"}, "encoding": {"text": {"field": "label"}, "fill": {"field": "s", "type": "nominal", "scale": {"domain": ["NanA", "NanB", "NanC"], "range": ["#4cbc92", "#f6925c", "#b07cc6"]}, "legend": null}}}
                  ]
                },
                {
                  "width": 236, "height": 58,
                  "encoding": {
                    "x": {"field": "pH", "type": "quantitative", "scale": {"domain": [3.5, 9], "nice": false, "zero": false}, "axis": {"values": [4,5,6,7,8,9], "title": "pH"}},
                    "y": {"field": "v", "type": "quantitative", "scale": {"domain": [0, 0.00705], "nice": false}, "axis": {"title": null, "values": [0,0.005,0.00705], "labelExpr": "datum.value > 0.006 ? '' : format(datum.value, '.3f')"}}
                  },
                  "layer": [
                    {"data": {"name": "Db_fit"}, "mark": {"type": "line", "interpolate": "monotone", "strokeWidth": 1.3, "clip": true}, "encoding": {"stroke": {"field": "s", "type": "nominal", "scale": {"domain": ["NanC", "NanB", "NanA"], "range": ["#8b48a6", "#f26522", "#16a070"]}, "legend": null}}},
                    {"data": {"name": "Db_pts"}, "mark": {"type": "circle", "size": 50, "opacity": 1, "clip": true}, "encoding": {"color": {"field": "s", "type": "nominal", "scale": {"domain": ["NanA", "NanB", "NanC"], "range": ["#16a070", "#f26522", "#8b48a6"]}, "legend": {"orient": "none", "legendX": 29, "legendY": 90.75, "direction": "horizontal", "title": null, "symbolType": "M-1,-0.117H0.2V0.117H-1Z M1.46,-0.117H2.67V0.117H1.46Z M0.2,0A0.63,0.63,0,1,1,1.46,0A0.63,0.63,0,1,1,0.2,0Z"}}}},
                    {"data": {"name": "Dbl_sig"}, "transform": [{"filter": "datum.label != 'ns'"}], "mark": {"type": "text", "fontSize": 9, "baseline": "alphabetic", "dy": 5.2}, "encoding": {"text": {"field": "label"}, "fill": {"field": "s", "type": "nominal", "scale": {"domain": ["NanC", "NanB", "NanA"], "range": ["#b07cc6", "#f6925c", "#4cbc92"]}, "legend": null}}},
                    {"data": {"name": "Dbl_sig"}, "transform": [{"filter": "datum.label == 'ns'"}], "mark": {"type": "text", "fontSize": 10, "baseline": "middle"}, "encoding": {"text": {"field": "label"}, "fill": {"field": "s", "type": "nominal", "scale": {"domain": ["NanC", "NanB", "NanA"], "range": ["#b07cc6", "#f6925c", "#4cbc92"]}, "legend": null}}}
                  ]
                }
              ],
              "spacing": 11,
              "bounds": "flush",
              "resolve": {"scale": {"color": "independent", "fill": "independent", "stroke": "independent"}}
            }
          ],
          "spacing": 78,
          "resolve": {"scale": {"color": "independent", "fill": "independent", "stroke": "independent"}}
        }
      ],
      "spacing": 14.6,
      "resolve": {"scale": {"color": "independent", "fill": "independent", "stroke": "independent"}}
    }
  ]
}
